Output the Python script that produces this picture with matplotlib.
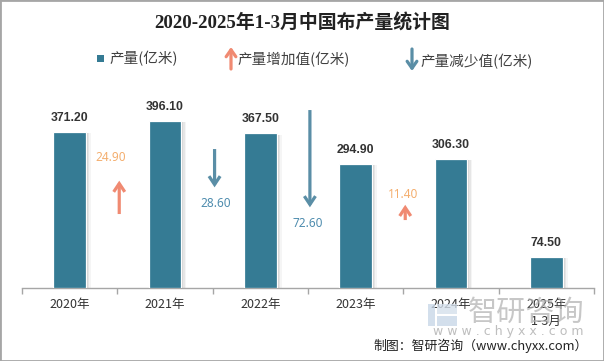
import matplotlib
matplotlib.use('Agg')
import matplotlib.pyplot as plt
from matplotlib.patches import Rectangle, FancyArrowPatch, ArrowStyle
import numpy as np

plt.rcParams['font.family'] = ['Noto Sans CJK SC', 'DejaVu Sans']

# ---------------- data ----------------
years = ['2020年', '2021年', '2022年', '2023年', '2024年', '2025年\n1-3月']
output = [371.2, 396.1, 367.5, 294.9, 306.3, 74.5]
changes = [24.9, -28.6, -72.6, 11.4]          # change between consecutive years
change_labels = ['24.90', '28.60', '72.60', '11.40']

# ---------------- layout (not data) ----------------
arrow_start = [55.2, 103.7, 132.8, 50.7]      # arrow base level on helper axis
label_level = [97.2, 62.7, 47.8, 69.9]        # label level on helper axis
label_dx = [-0.07, 0.03, 0.0, 0.0]

BAR_C = '#357B94'
UP_C = '#F08A72'
UP_TXT = '#F4AE6E'
DN_C = '#5A8EA6'
DN_TXT = '#4E8CAE'
TXT = '#333333'

W, H = 604, 361
fig = plt.figure(figsize=(W / 100, H / 100), dpi=100)


def fx(x):
    return x / W


def fy(y):
    return 1 - y / H


ax = fig.add_axes([22 / W, 1 - 288 / H, 572 / W, 188 / H])
ax.set_xlim(-0.5, 5.5)
ax.set_ylim(0, 446.5)
x = np.arange(len(output))
bw = 0.346

# shadows
for off, a in [(0.05, 0.04), (0.035, 0.06), (0.02, 0.08), (0.008, 0.08)]:
    ax.bar(x + off, np.array(output) - 3, bw, color='#000000', alpha=a, zorder=1, linewidth=0)
ax.bar(x, output, bw, color=BAR_C, edgecolor='white', linewidth=0.9, zorder=3)

for i, v in enumerate(output):
    ax.annotate(f'{v:.2f}', (i, v), xytext=(0, 10), textcoords='offset points',
                ha='center', va='center', fontsize=8.8, fontweight='bold',
                color=TXT, family=['Liberation Sans', 'DejaVu Sans'], zorder=5)

for s in ['top', 'right', 'left']:
    ax.spines[s].set_visible(False)
ax.spines['bottom'].set_color('#A6A6A6')
ax.spines['bottom'].set_linewidth(1.0)
ax.set_yticks([])
ax.set_xticks(x, years)
ax.set_xticks(np.arange(-0.5, 6.0, 1.0), minor=True)
ax.tick_params(axis='x', which='major', length=0, pad=7, labelsize=9, labelcolor=TXT)
ax.tick_params(axis='x', which='minor', length=4, width=1.0, color='#A6A6A6', direction='out')
for lbl in ax.get_xticklabels():
    lbl.set_linespacing(1.45)

# helper axis for change arrows
ax2 = ax.twinx()
ax2.set_ylim(0, 140.3)
ax2.axis('off')
for i, (c, lab) in enumerate(zip(changes, change_labels)):
    xb = i + 0.5 + 0.02
    y0 = arrow_start[i]
    y1 = y0 + c
    col = UP_C if c > 0 else DN_C
    tcol = UP_TXT if c > 0 else DN_TXT
    arr = FancyArrowPatch((xb, y0), (xb, y1),
                          arrowstyle=ArrowStyle('->', head_length=6, head_width=4),
                          mutation_scale=1, color=col, lw=2.3, shrinkA=0, shrinkB=0,
                          capstyle='butt', joinstyle='miter', zorder=4)
    ax2.add_patch(arr)
    ax2.text(i + 0.5 + label_dx[i], label_level[i], lab, ha='center', va='center',
             fontsize=8.5, color=tcol, family=['Noto Sans', 'DejaVu Sans'])

# title
fig.text(0.5, fy(23), '2020-2025年1-3月中国布产量统计图', ha='center', va='center',
         fontsize=13.6, fontweight='bold', color='#222222',
         family=['Liberation Serif', 'Noto Sans CJK SC'])

# legend
fig.add_artist(Rectangle((fx(97), fy(62)), 7 / W, 7 / H, transform=fig.transFigure,
                         color=BAR_C, linewidth=0))
fig.text(fx(109), fy(59), '产量(亿米)', fontsize=10.5, color='#404040', va='center', ha='left')
fig.add_artist(FancyArrowPatch((fx(231), fy(69)), (fx(231), fy(47)), transform=fig.transFigure,
                               arrowstyle=ArrowStyle('->', head_length=5, head_width=3.5),
                               mutation_scale=1, color=UP_C, lw=2.3, shrinkA=0, shrinkB=0))
fig.text(fx(237), fy(60), '产量增加值(亿米)', fontsize=10.5, color='#404040', va='center', ha='left')
fig.add_artist(FancyArrowPatch((fx(412), fy(49)), (fx(412), fy(71)), transform=fig.transFigure,
                               arrowstyle=ArrowStyle('->', head_length=5, head_width=3.5),
                               mutation_scale=1, color=DN_C, lw=2.3, shrinkA=0, shrinkB=0))
fig.text(fx(420), fy(62), '产量减少值(亿米)', fontsize=10.5, color='#404040', va='center', ha='left')

# watermark
fig.add_artist(Rectangle((fx(428), fy(326)), 7 / W, 22 / H, transform=fig.transFigure,
                         color='#C9D8E8', alpha=0.8, linewidth=0))
fig.add_artist(Rectangle((fx(437), fy(326)), 20 / W, 10 / H, transform=fig.transFigure,
                         color='#C9D8E8', alpha=0.8, linewidth=0))
fig.add_artist(Rectangle((fx(437), fy(314)), 20 / W, 10 / H, transform=fig.transFigure,
                         color='#D5E0EC', alpha=0.8, linewidth=0))
fig.text(fx(468), fy(313), '智研咨询', fontsize=21, color='#B0B0B0', alpha=0.7,
         va='center', ha='left')
fig.text(fx(433), fy(332), 'w w w . c h y x x . c o m', fontsize=9, color='#BEBEBE',
         va='center', ha='left', family=['DejaVu Sans'])

# footer
fig.text(fx(588), fy(346), '制图：智研咨询（www.chyxx.com）', fontsize=9.3, color='#222222',
         va='center', ha='right')

# border
fig.add_artist(Rectangle((0, 0), 1, 1, transform=fig.transFigure, fill=False,
                         edgecolor='#A6A6A6', linewidth=2))

fig.savefig('out.png', dpi=100)
